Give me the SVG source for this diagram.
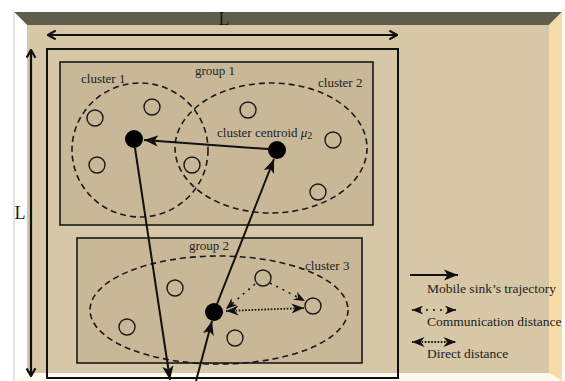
<svg xmlns="http://www.w3.org/2000/svg" width="565" height="381" viewBox="0 0 565 381">
  <style>
    .lbl { font-family: "Liberation Serif", "Times New Roman", serif; font-size: 13px; fill: #222; }
    .leg { font-family: "Liberation Serif", "Times New Roman", serif; font-size: 13.5px; fill: #222; }
    .big { font-family: "Liberation Serif", "Times New Roman", serif; font-size: 18px; fill: #1a1a1a; }
    .grp { fill: #c8b898; stroke: #1a1a1a; stroke-width: 1.6; }
    .clu { fill: none; stroke: #1a1a1a; stroke-width: 1.6; stroke-dasharray: 6,4; }
    .node { fill: none; stroke: #1a1a1a; stroke-width: 1.4; }
    .ctr { fill: #000; }
    .traj { stroke: #111; stroke-width: 2; fill: none; }
    .comm { stroke: #111; stroke-width: 1.6; fill: none; stroke-dasharray: 2,5; }
    .direct { stroke: #111; stroke-width: 1.8; fill: none; stroke-dasharray: 1.6,1.6; }
  </style>
  <defs>
    <marker id="head" viewBox="0 0 10 8" refX="10" refY="4" markerWidth="7" markerHeight="5.6" orient="auto" markerUnits="strokeWidth">
      <path d="M0,0 L10,4 L0,8 L2.5,4 z" fill="#111"/>
    </marker>
    <marker id="chev" viewBox="0 0 10 10" refX="9" refY="5" markerWidth="5" markerHeight="5" orient="auto-start-reverse" markerUnits="strokeWidth">
      <path d="M2,1 L9,5 L2,9" fill="none" stroke="#111" stroke-width="2"/>
    </marker>
    <marker id="small" viewBox="0 0 10 8" refX="10" refY="4" markerWidth="7" markerHeight="5.6" orient="auto-start-reverse" markerUnits="strokeWidth">
      <path d="M0,0 L10,4 L0,8 L3,4 z" fill="#111"/>
    </marker>
  </defs>

  <!-- room: back wall, ceiling, side walls, floor -->
  <rect x="0" y="0" width="565" height="381" fill="#ffffff"/>
  <rect x="27" y="25" width="522" height="348" fill="#d6c7a7"/>
  <polygon points="14,12 562,12 549,25 27,25" fill="#5f5e4c"/>
  <polygon points="14,12 27,25 27,373 14,381" fill="#ffffff"/>
  <line x1="14" y1="12" x2="14" y2="381" stroke="#c8c8c8" stroke-width="1"/>
  <polygon points="562,12 549,25 549,373 562,381" fill="#f5dca6"/>
  <polygon points="27,373 549,373 562,381 14,381" fill="#fdf9ef"/>

  <!-- field boundary -->
  <rect id="field" x="47" y="49" width="351" height="329" fill="none" stroke="#111" stroke-width="2"/>

  <!-- dimension arrows -->
  <g id="dimensions">
    <line x1="48" y1="35" x2="397" y2="35" stroke="#111" stroke-width="2.2" marker-start="url(#chev)" marker-end="url(#chev)"/>
    <text class="big" x="224" y="25" text-anchor="middle">L</text>
    <line x1="31" y1="50" x2="31" y2="376" stroke="#111" stroke-width="2.2" marker-start="url(#chev)" marker-end="url(#chev)"/>
    <text class="big" x="20" y="219" text-anchor="middle">L</text>
  </g>

  <!-- group 1 -->
  <g id="group1">
    <rect class="grp" x="60" y="62" width="313" height="163"/>
    <text class="lbl" x="215" y="75" text-anchor="middle">group 1</text>
  </g>

  <g id="cluster1">
    <ellipse class="clu" cx="140" cy="150" rx="68" ry="67"/>
    <text class="lbl" x="81" y="83">cluster 1</text>
    <circle class="node" cx="95" cy="118" r="8"/>
    <circle class="node" cx="152" cy="107" r="8"/>
    <circle class="node" cx="97" cy="165" r="8"/>
    <circle class="node" cx="192" cy="165" r="8"/>
    <circle class="ctr" cx="134" cy="139" r="9"/>
  </g>

  <g id="cluster2">
    <ellipse class="clu" cx="271" cy="148" rx="96" ry="65"/>
    <text class="lbl" x="318" y="87">cluster 2</text>
    <circle class="node" cx="248" cy="110" r="8"/>
    <circle class="node" cx="333" cy="140" r="8"/>
    <circle class="node" cx="318" cy="192" r="8"/>
    <circle class="ctr" cx="277" cy="150" r="9"/>
    <text class="lbl" x="217" y="137" font-size="14">cluster centroid <tspan font-style="italic">μ</tspan><tspan font-size="10" dy="2">2</tspan></text>
  </g>

  <!-- group 2 -->
  <g id="group2">
    <rect class="grp" x="77" y="238" width="285" height="125"/>
    <text class="lbl" x="209" y="250" text-anchor="middle">group 2</text>
  </g>

  <g id="cluster3">
    <ellipse class="clu" cx="219" cy="310" rx="129" ry="54"/>
    <text class="lbl" x="305" y="270">cluster 3</text>
    <circle class="node" cx="175" cy="288" r="8"/>
    <circle class="node" cx="127" cy="327" r="8"/>
    <circle class="node" cx="235" cy="338" r="8"/>
    <circle class="node" cx="263" cy="278" r="8"/>
    <circle class="node" cx="313" cy="306" r="8"/>
    <circle class="ctr" cx="214" cy="312" r="9"/>
  </g>

  <!-- connectors -->
  <g id="connectors">
    <line class="traj" x1="196" y1="381" x2="212" y2="321" marker-end="url(#head)"/>
    <line class="traj" x1="217" y1="304" x2="274" y2="159" marker-end="url(#head)"/>
    <line class="traj" x1="268" y1="149" x2="144" y2="140" marker-end="url(#head)"/>
    <line class="traj" x1="135" y1="148" x2="170" y2="380" marker-end="url(#head)"/>
    <line class="comm" x1="255" y1="284" x2="226" y2="309" stroke-width="1.5" marker-end="url(#small)"/>
    <line class="comm" x1="270" y1="283" x2="305" y2="301" stroke-width="1.5" marker-end="url(#small)"/>
    <line class="direct" x1="226" y1="311" x2="304" y2="308" stroke-width="1.6" marker-start="url(#small)" marker-end="url(#small)"/>
  </g>

  <!-- legend -->
  <g id="legend">
    <line class="traj" x1="410" y1="275" x2="458" y2="275" marker-end="url(#head)"/>
    <text class="leg" x="427" y="293">Mobile sink’s trajectory</text>
    <line class="comm" x1="412" y1="310" x2="456" y2="310" marker-start="url(#small)" marker-end="url(#small)"/>
    <text class="leg" x="427" y="326">Communication distance</text>
    <line class="direct" x1="412" y1="342" x2="456" y2="342" marker-start="url(#small)" marker-end="url(#small)"/>
    <text class="leg" x="427" y="358">Direct distance</text>
  </g>
</svg>
